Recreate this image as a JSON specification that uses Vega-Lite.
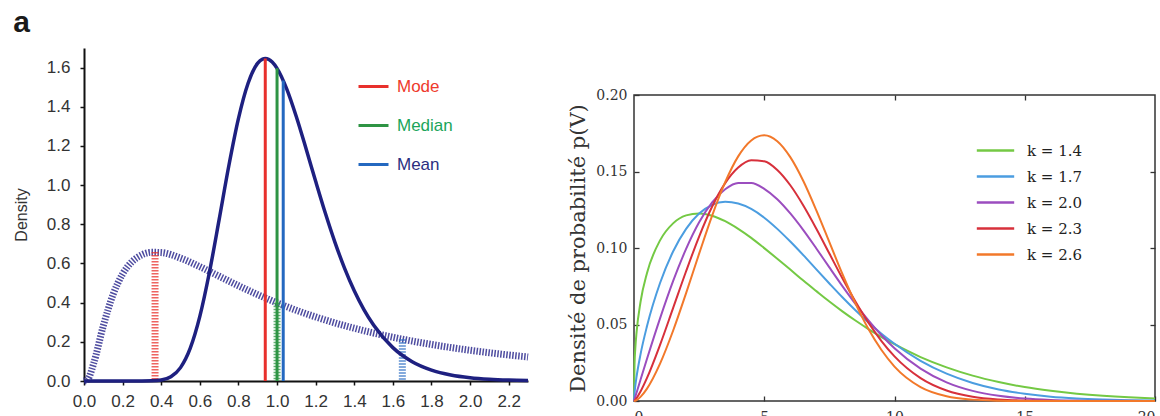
{
  "$schema": "https://vega.github.io/schema/vega-lite/v6.json",
  "padding": {"left": 13, "top": 8, "right": 0, "bottom": 0},
  "background": "white",
  "spacing": 25,
  "resolve": {"scale": {"color": "independent"}, "legend": {"color": "independent"}},
  "config": {"font": "Liberation Sans", "view": {"stroke": null}, "axis": {"grid": false}},
  "datasets": {
    "curves": [
      {"c": "h", "x": 0, "y": 0}, {"c": "h", "x": 0.02, "y": 0.0095}, {"c": "h", "x": 0.05, "y": 0.0898},
      {"c": "h", "x": 0.1, "y": 0.2815}, {"c": "h", "x": 0.15, "y": 0.4399}, {"c": "h", "x": 0.2, "y": 0.5463},
      {"c": "h", "x": 0.25, "y": 0.6104}, {"c": "h", "x": 0.3, "y": 0.6442}, {"c": "h", "x": 0.35, "y": 0.657},
      {"c": "h", "x": 0.4, "y": 0.6555}, {"c": "h", "x": 0.5, "y": 0.6274}, {"c": "h", "x": 0.6, "y": 0.5836},
      {"c": "h", "x": 0.7, "y": 0.5348}, {"c": "h", "x": 0.8, "y": 0.4864}, {"c": "h", "x": 0.9, "y": 0.4408},
      {"c": "h", "x": 1.0, "y": 0.3989}, {"c": "h", "x": 1.1, "y": 0.361}, {"c": "h", "x": 1.2, "y": 0.327},
      {"c": "h", "x": 1.3, "y": 0.2965}, {"c": "h", "x": 1.4, "y": 0.2693}, {"c": "h", "x": 1.5, "y": 0.245},
      {"c": "h", "x": 1.6, "y": 0.2233}, {"c": "h", "x": 1.7, "y": 0.2039}, {"c": "h", "x": 1.8, "y": 0.1865},
      {"c": "h", "x": 1.9, "y": 0.1709}, {"c": "h", "x": 2.0, "y": 0.1569}, {"c": "h", "x": 2.1, "y": 0.1443},
      {"c": "h", "x": 2.2, "y": 0.1329}, {"c": "h", "x": 2.3, "y": 0.1226},
      {"c": "s", "x": 0, "y": 0}, {"c": "s", "x": 0.1, "y": 0}, {"c": "s", "x": 0.2, "y": 0}, {"c": "s", "x": 0.3, "y": 0},
      {"c": "s", "x": 0.35, "y": 0.0007}, {"c": "s", "x": 0.4, "y": 0.0048}, {"c": "s", "x": 0.45, "y": 0.0216},
      {"c": "s", "x": 0.5, "y": 0.0683}, {"c": "s", "x": 0.55, "y": 0.1663}, {"c": "s", "x": 0.6, "y": 0.3298},
      {"c": "s", "x": 0.65, "y": 0.5563}, {"c": "s", "x": 0.7, "y": 0.8239}, {"c": "s", "x": 0.75, "y": 1.0974},
      {"c": "s", "x": 0.8, "y": 1.3393}, {"c": "s", "x": 0.85, "y": 1.5198}, {"c": "s", "x": 0.9, "y": 1.6224},
      {"c": "s", "x": 0.925, "y": 1.6433}, {"c": "s", "x": 0.939, "y": 1.6464}, {"c": "s", "x": 0.975, "y": 1.6283},
      {"c": "s", "x": 1.0, "y": 1.5958}, {"c": "s", "x": 1.05, "y": 1.4911}, {"c": "s", "x": 1.1, "y": 1.349},
      {"c": "s", "x": 1.15, "y": 1.1869}, {"c": "s", "x": 1.2, "y": 1.0193}, {"c": "s", "x": 1.25, "y": 0.8572},
      {"c": "s", "x": 1.3, "y": 0.7078}, {"c": "s", "x": 1.35, "y": 0.5751}, {"c": "s", "x": 1.4, "y": 0.4608},
      {"c": "s", "x": 1.45, "y": 0.3647}, {"c": "s", "x": 1.5, "y": 0.2856}, {"c": "s", "x": 1.6, "y": 0.1704},
      {"c": "s", "x": 1.7, "y": 0.0987}, {"c": "s", "x": 1.8, "y": 0.0559}, {"c": "s", "x": 1.9, "y": 0.0311},
      {"c": "s", "x": 2.0, "y": 0.0171}, {"c": "s", "x": 2.1, "y": 0.0093}, {"c": "s", "x": 2.2, "y": 0.005},
      {"c": "s", "x": 2.3, "y": 0.0027}
    ],
    "stats": [
      {"stat": "Mode", "x": 0.939, "h": 1.646, "c": "s"},
      {"stat": "Median", "x": 1.0, "h": 1.596, "c": "s"},
      {"stat": "Mean", "x": 1.032, "h": 1.534, "c": "s"},
      {"stat": "Mode", "x": 0.368, "h": 0.658, "c": "h"},
      {"stat": "Median", "x": 1.0, "h": 0.399, "c": "h"},
      {"stat": "Mean", "x": 1.649, "h": 0.213, "c": "h"}
    ],
    "weib": [
      {"v": 0, "k14": 0, "k17": 0, "k20": 0, "k23": 0, "k26": 0},
      {"v": 0.02, "k14": 0.0238, "k17": 0.0052, "k20": 0.0011, "k23": 0.0002, "k26": 0.0001},
      {"v": 0.05, "k14": 0.0343, "k17": 0.0099, "k20": 0.0028, "k23": 0.0008, "k26": 0.0002},
      {"v": 0.1, "k14": 0.0452, "k17": 0.0161, "k20": 0.0056, "k23": 0.0019, "k26": 0.0006},
      {"v": 0.25, "k14": 0.0647, "k17": 0.0305, "k20": 0.0139, "k23": 0.0062, "k26": 0.0027},
      {"v": 0.5, "k14": 0.0837, "k17": 0.049, "k20": 0.0276, "k23": 0.0151, "k26": 0.0081},
      {"v": 1, "k14": 0.105, "k17": 0.0771, "k20": 0.054, "k23": 0.0367, "k26": 0.0244},
      {"v": 1.5, "k14": 0.1161, "k17": 0.0977, "k20": 0.0783, "k23": 0.0607, "k26": 0.0459},
      {"v": 2, "k14": 0.1213, "k17": 0.1125, "k20": 0.0994, "k23": 0.0848, "k26": 0.0705},
      {"v": 2.5, "k14": 0.1226, "k17": 0.1225, "k20": 0.1168, "k23": 0.1075, "k26": 0.0963},
      {"v": 3, "k14": 0.1211, "k17": 0.1282, "k20": 0.1298, "k23": 0.1271, "k26": 0.1212},
      {"v": 3.5, "k14": 0.1175, "k17": 0.1302, "k20": 0.1384, "k23": 0.1424, "k26": 0.143},
      {"v": 4, "k14": 0.1125, "k17": 0.1291, "k20": 0.1425, "k23": 0.1526, "k26": 0.1599},
      {"v": 4.5, "k14": 0.1066, "k17": 0.1255, "k20": 0.1425, "k23": 0.1574, "k26": 0.1703},
      {"v": 5, "k14": 0.0999, "k17": 0.1198, "k20": 0.1387, "k23": 0.1567, "k26": 0.1737},
      {"v": 5.5, "k14": 0.093, "k17": 0.1125, "k20": 0.1319, "k23": 0.151, "k26": 0.1698},
      {"v": 6, "k14": 0.0859, "k17": 0.1042, "k20": 0.1226, "k23": 0.141, "k26": 0.1594},
      {"v": 6.5, "k14": 0.0787, "k17": 0.0953, "k20": 0.1117, "k23": 0.1278, "k26": 0.1438},
      {"v": 7, "k14": 0.0718, "k17": 0.086, "k20": 0.0997, "k23": 0.1126, "k26": 0.1246},
      {"v": 7.5, "k14": 0.065, "k17": 0.0768, "k20": 0.0873, "k23": 0.0964, "k26": 0.1038},
      {"v": 8, "k14": 0.0586, "k17": 0.0678, "k20": 0.0751, "k23": 0.0802, "k26": 0.083},
      {"v": 8.5, "k14": 0.0526, "k17": 0.0593, "k20": 0.0635, "k23": 0.065, "k26": 0.0638},
      {"v": 9, "k14": 0.047, "k17": 0.0513, "k20": 0.0527, "k23": 0.0512, "k26": 0.047},
      {"v": 9.5, "k14": 0.0418, "k17": 0.044, "k20": 0.043, "k23": 0.0392, "k26": 0.0333},
      {"v": 10, "k14": 0.0371, "k17": 0.0374, "k20": 0.0345, "k23": 0.0292, "k26": 0.0225},
      {"v": 11, "k14": 0.0287, "k17": 0.0263, "k20": 0.0212, "k23": 0.015, "k26": 0.0091},
      {"v": 12, "k14": 0.022, "k17": 0.0179, "k20": 0.0122, "k23": 0.0069, "k26": 0.0031},
      {"v": 13, "k14": 0.0166, "k17": 0.0118, "k20": 0.0066, "k23": 0.0028, "k26": 0.0009},
      {"v": 14, "k14": 0.0124, "k17": 0.0075, "k20": 0.0034, "k23": 0.001, "k26": 0.0002},
      {"v": 15, "k14": 0.0091, "k17": 0.0047, "k20": 0.0016, "k23": 0.0003, "k26": 0},
      {"v": 16, "k14": 0.0067, "k17": 0.0028, "k20": 0.0007, "k23": 0.0001, "k26": 0},
      {"v": 17, "k14": 0.0048, "k17": 0.0017, "k20": 0.0003, "k23": 0, "k26": 0},
      {"v": 18, "k14": 0.0034, "k17": 0.001, "k20": 0.0001, "k23": 0, "k26": 0},
      {"v": 19, "k14": 0.0024, "k17": 0.0005, "k20": 0.0001, "k23": 0, "k26": 0},
      {"v": 20, "k14": 0.0017, "k17": 0.0003, "k20": 0, "k23": 0, "k26": 0}
    ]
  },
  "hconcat": [
    {
      "width": 444,
      "height": 333,
      "title": {"text": "a", "anchor": "start", "frame": "bounds", "fontSize": 30, "fontWeight": "bold", "font": "Liberation Sans", "color": "#1a1a1a", "offset": 10},
      "layer": [
        {
          "data": {"name": "curves"},
          "transform": [{"filter": "datum.c == 'h'"}],
          "mark": {"type": "line", "interpolate": "monotone", "strokeWidth": 7, "strokeDash": [1.5, 1.5], "color": "#3b3896", "opacity": 0.9},
          "encoding": {
            "x": {"field": "x", "type": "quantitative", "scale": {"domain": [0, 2.3], "nice": false},
              "axis": {"values": [0, 0.2, 0.4, 0.6, 0.8, 1.0, 1.2, 1.4, 1.6, 1.8, 2.0, 2.2], "format": ".1f", "title": null,
                "domainColor": "#111", "domainWidth": 2, "tickColor": "#111", "tickSize": 4, "tickWidth": 1.5,
                "labelFontSize": 17, "labelColor": "#333", "labelPadding": 8, "labelFlush": false}},
            "y": {"field": "y", "type": "quantitative", "scale": {"domain": [0, 1.7], "nice": false},
              "axis": {"values": [0, 0.2, 0.4, 0.6, 0.8, 1.0, 1.2, 1.4, 1.6], "format": ".1f", "title": "Density",
                "titleFontSize": 16, "titleFontWeight": "normal", "titleColor": "#333", "titlePadding": 17,
                "domainColor": "#111", "domainWidth": 2, "tickColor": "#111", "tickSize": 4, "tickWidth": 1.5,
                "labelFontSize": 17, "labelColor": "#333", "labelPadding": 10}}
          }
        },
        {
          "data": {"name": "stats"},
          "transform": [{"filter": "datum.c == 'h'"}],
          "mark": {"type": "rule", "strokeWidth": 7, "strokeDash": [1.5, 1.5], "opacity": 0.75},
          "encoding": {
            "x": {"field": "x", "type": "quantitative"},
            "y": {"field": "h", "type": "quantitative"},
            "y2": {"datum": 0},
            "color": {"field": "stat", "type": "nominal"}
          }
        },
        {
          "data": {"name": "curves"},
          "transform": [{"filter": "datum.c == 's'"}],
          "mark": {"type": "line", "interpolate": "monotone", "strokeWidth": 3.5, "color": "#1e2080"},
          "encoding": {
            "x": {"field": "x", "type": "quantitative"},
            "y": {"field": "y", "type": "quantitative"}
          }
        },
        {
          "data": {"name": "stats"},
          "transform": [{"filter": "datum.c == 's'"}],
          "mark": {"type": "rule", "strokeWidth": 3},
          "encoding": {
            "x": {"field": "x", "type": "quantitative"},
            "y": {"field": "h", "type": "quantitative"},
            "y2": {"datum": 0},
            "color": {"field": "stat", "type": "nominal",
              "scale": {"domain": ["Mode", "Median", "Mean"], "range": ["#e8302c", "#2e9444", "#2468c0"]},
              "legend": {"orient": "none", "legendX": 273, "legendY": 22, "title": null, "symbolType": "stroke",
                "symbolSize": 900, "symbolStrokeWidth": 3, "labelFontSize": 17, "labelFont": "Liberation Sans",
                "rowPadding": 14, "labelOffset": 7,
                "encode": {"labels": {"update": {"fill": {"signal": "datum.value == 'Mode' ? '#ee3a2c' : datum.value == 'Median' ? '#1aa55a' : '#2b2f7f'"}}}}}}
          }
        }
      ]
    },
    {
      "spacing": 10,
      "vconcat": [
        {
          "width": 521,
          "height": 29,
          "data": {"values": [{}]},
          "mark": {"type": "rule", "opacity": 0},
          "encoding": {}
        },
        {
          "width": 521,
          "height": 306,
          "view": {"stroke": "#333", "strokeWidth": 1.5},
          "data": {"name": "weib"},
          "transform": [{"fold": ["k14", "k17", "k20", "k23", "k26"], "as": ["k", "p"]}],
          "layer": [
            {
              "mark": {"type": "line", "interpolate": "monotone", "strokeWidth": 2},
              "encoding": {
                "x": {"field": "v", "type": "quantitative", "scale": {"domain": [0, 20], "nice": false},
                  "axis": {"values": [0, 5, 10, 15, 20], "format": "d", "title": null, "domain": false,
                    "tickColor": "#333", "tickSize": -5, "tickWidth": 1.3, "labelFont": "DejaVu Serif",
                    "labelFontSize": 14, "labelColor": "#333", "labelPadding": 14}},
                "y": {"field": "p", "type": "quantitative", "scale": {"domain": [0, 0.2], "nice": false},
                  "axis": {"values": [0, 0.05, 0.1, 0.15, 0.2], "format": ".2f", "title": "Densité de probabilité    p(V)",
                    "titleFont": "DejaVu Serif", "titleFontSize": 21, "titleFontWeight": "normal", "titleColor": "#333",
                    "titlePadding": 7, "domain": false, "tickColor": "#333", "tickSize": -5, "tickWidth": 1.3,
                    "labelFont": "DejaVu Serif", "labelFontSize": 14, "labelColor": "#333", "labelPadding": 12}},
                "color": {"field": "k", "type": "nominal",
                  "scale": {"domain": ["k14", "k17", "k20", "k23", "k26"], "range": ["#74c944", "#4b9de0", "#9b4dbf", "#d7303b", "#f2782a"]},
                  "legend": {"orient": "none", "legendX": 344, "legendY": 85, "title": null, "symbolType": "M-1.15,0H1.15",
                    "symbolSize": 1056, "symbolStrokeWidth": 2.5, "labelFontSize": 15, "labelFont": "DejaVu Serif",
                    "labelColor": "#222", "rowPadding": 0, "labelOffset": 14,
                    "labelExpr": "'k = ' + slice(datum.label, 1, 2) + '.' + slice(datum.label, 2)"}}
              }
            },
            {
              "mark": {"type": "line", "opacity": 0},
              "encoding": {
                "x": {"field": "v", "type": "quantitative",
                  "axis": {"orient": "top", "values": [5, 10, 15], "labels": false, "title": null, "domain": false,
                    "tickColor": "#333", "tickSize": -5, "tickWidth": 1.3}},
                "y": {"field": "p", "type": "quantitative",
                  "axis": {"orient": "right", "values": [0.05, 0.1, 0.15], "labels": false, "title": null, "domain": false,
                    "tickColor": "#333", "tickSize": -5, "tickWidth": 1.3}},
                "detail": {"field": "k"}
              }
            }
          ],
          "resolve": {"axis": {"x": "independent", "y": "independent"}}
        }
      ]
    }
  ]
}
